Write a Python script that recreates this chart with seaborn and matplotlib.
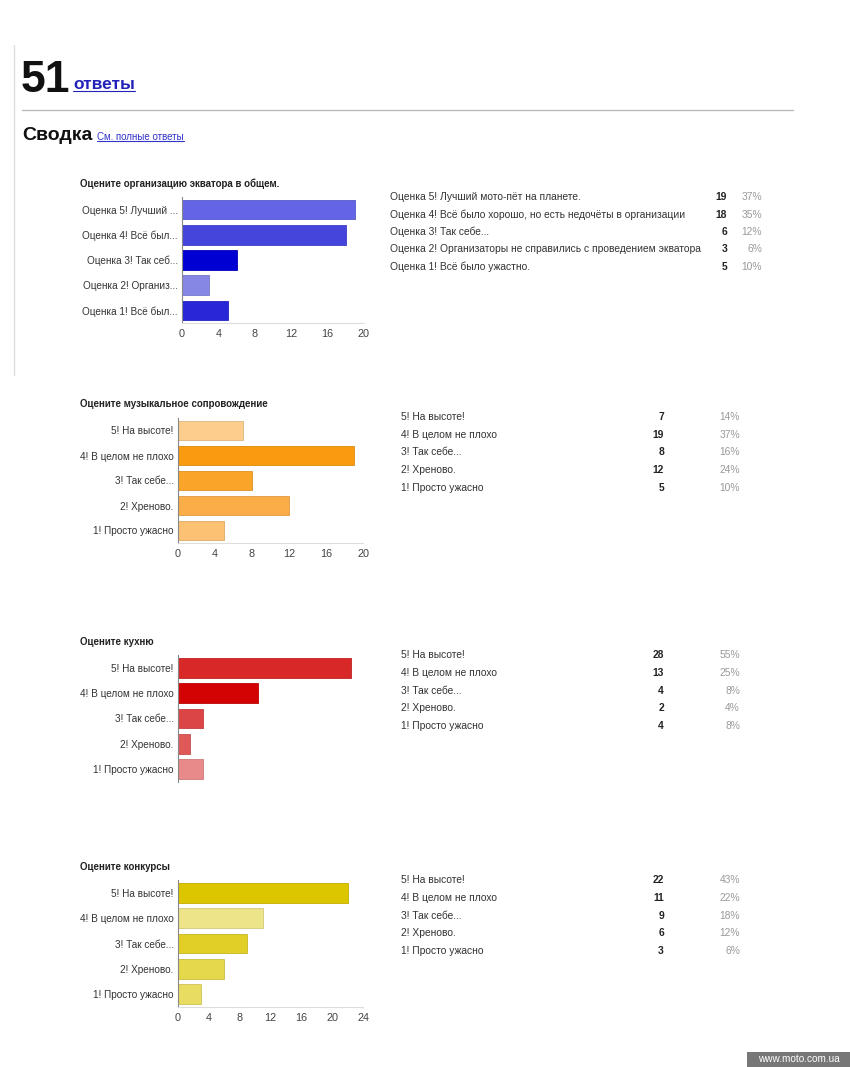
import matplotlib
matplotlib.use("Agg")
import matplotlib.pyplot as plt
import matplotlib.colors as mcolors
import seaborn as sns
import pandas as pd

# data
total = 51

q1_title = "Оцените организацию экватора в общем."
q1_short = ["Оценка 5! Лучший ...", "Оценка 4! Всё был...", "Оценка 3! Так себ...",
            "Оценка 2! Организ...", "Оценка 1! Всё был..."]
q1_full = ["Оценка 5! Лучший мото-пёт на планете.",
           "Оценка 4! Всё было хорошо, но есть недочёты в организации",
           "Оценка 3! Так себе...",
           "Оценка 2! Организаторы не справились с проведением экватора",
           "Оценка 1! Всё было ужастно."]
q1_counts = [19, 18, 6, 3, 5]
q1_colors = ["#6464e6", "#4545dc", "#0000d2", "#8686e4", "#2727d8"]

answers = ["5! На высоте!", "4! В целом не плохо", "3! Так себе...", "2! Хреново.", "1! Просто ужасно"]
answers_tbl = ["5! На высоте!", "4! В целом не плохо", "3! Так себе...", "2! Хреново.", "1! Просто ужасно"]

q2_title = "Оцените музыкальное сопровождение"
q2_counts = [7, 19, 8, 12, 5]
q2_colors = ["#fdcd8e", "#f99b0e", "#faa42a", "#fbae48", "#fcc172"]

q3_title = "Оцените кухню"
q3_counts = [28, 13, 4, 2, 4]
q3_colors = ["#d92828", "#d30303", "#dc4545", "#e05959", "#e88a8a"]

q4_title = "Оцените конкурсы"
q4_counts = [22, 11, 9, 6, 3]
q4_colors = ["#dcc600", "#ede48a", "#e1cf28", "#e5d84c", "#e8dc62"]

sns.set_style("white")
plt.rcParams["font.family"] = ["Liberation Sans", "DejaVu Sans"]

W, H = 850, 1067
fig = plt.figure(figsize=(W / 100, H / 100), dpi=100)


def px_axes(x0, y0, x1, y1):
    return fig.add_axes([x0 / W, 1 - y1 / H, (x1 - x0) / W, (y1 - y0) / H])


def fx(x):
    return x / W


def fy(y):
    return 1 - y / H


def underline(txt, color):
    fig.canvas.draw()
    bb = txt.get_window_extent()
    fig.add_artist(plt.Line2D([bb.x0 / W, bb.x1 / W], [(bb.y0 + 1) / H, (bb.y0 + 1) / H],
                              color=color, lw=0.8, transform=fig.transFigure))


# header
fig.add_artist(plt.Line2D([fx(14), fx(14)], [fy(45), fy(375)], color="#dddddd", lw=1))
fig.add_artist(plt.Line2D([fx(22), fx(793)], [fy(110), fy(110)], color="#bbbbbb", lw=1))
fig.text(fx(21), fy(92), "51", fontsize=32, fontweight="bold", color="#111111", va="baseline")
t = fig.text(fx(73), fy(89), "ответы", fontsize=12.5, fontweight="bold", color="#2222bb", va="baseline")
underline(t, "#2222bb")
fig.text(fx(22), fy(140), "Сводка", fontsize=14, fontweight="bold", color="#111111", va="baseline")
t = fig.text(fx(97), fy(140), "См. полные ответы", fontsize=7, color="#3333cc", va="baseline")
underline(t, "#3333cc")

charts = [
    dict(title=q1_title, labels=q1_short, tbl=q1_full, counts=q1_counts, colors=q1_colors,
         box=(182, 197, 364, 323), xmax=20, ticks=[0, 4, 8, 12, 16, 20], title_y=184,
         rows=[197, 214.5, 232, 249.5, 267], tx=(390, 727, 762)),
    dict(title=q2_title, labels=answers, tbl=answers_tbl, counts=q2_counts, colors=q2_colors,
         box=(178, 418, 363, 543), xmax=20, ticks=[0, 4, 8, 12, 16, 20], title_y=404,
         rows=[417, 435, 452, 470, 488], tx=(401, 664, 740)),
    dict(title=q3_title, labels=answers, tbl=answers_tbl, counts=q3_counts, colors=q3_colors,
         box=(178, 655, 363, 782), xmax=30, ticks=None, title_y=642,
         rows=[655, 673, 691, 708, 726], tx=(401, 664, 740)),
    dict(title=q4_title, labels=answers, tbl=answers_tbl, counts=q4_counts, colors=q4_colors,
         box=(178, 880, 363, 1007), xmax=24, ticks=[0, 4, 8, 12, 16, 20, 24], title_y=867,
         rows=[880, 898, 916, 933, 951], tx=(401, 664, 740)),
]

for c in charts:
    ax = px_axes(*c["box"])
    df = pd.DataFrame({"answer": c["labels"], "count": c["counts"]})
    sns.barplot(data=df, x="count", y="answer", hue="answer", palette=c["colors"],
                legend=False, orient="h", width=0.78, saturation=1, ax=ax)
    for p, col in zip(ax.patches, c["colors"]):
        r, g, b = mcolors.to_rgb(col)
        p.set_edgecolor((r * 0.88, g * 0.88, b * 0.88))
        p.set_linewidth(0.6)
    ax.set_xlim(0, c["xmax"])
    ax.set_ylim(4.5, -0.5)
    ax.set_xlabel("")
    ax.set_ylabel("")
    for s in ["top", "right"]:
        ax.spines[s].set_visible(False)
    ax.spines["left"].set_color("#888888")
    ax.spines["left"].set_linewidth(0.8)
    ax.spines["bottom"].set_color("#dddddd")
    ax.spines["bottom"].set_linewidth(0.8)
    ax.tick_params(axis="y", length=0, labelsize=7.2, colors="#333333", pad=3)
    if c["ticks"] is None:
        ax.set_xticks([])
        ax.spines["bottom"].set_visible(False)
    else:
        ax.set_xticks(c["ticks"])
        ax.tick_params(axis="x", length=0, labelsize=7.8, pad=4, colors="#444444")
    fig.text(fx(80), fy(c["title_y"]), c["title"], fontsize=7.05, fontweight="bold",
             color="#222222", va="center")
    lx, cx, px_ = c["tx"]
    for y, lab, n in zip(c["rows"], c["tbl"], c["counts"]):
        fig.text(fx(lx), fy(y), lab, fontsize=7.4, color="#333333", va="center")
        fig.text(fx(cx), fy(y), str(n), fontsize=7.4, fontweight="bold", color="#222222",
                 va="center", ha="right")
        fig.text(fx(px_), fy(y), f"{round(n / total * 100)}%", fontsize=7.4, color="#999999",
                 va="center", ha="right")

# watermark
fig.add_artist(plt.Rectangle((fx(747), 0), 1 - fx(747), 15 / H, transform=fig.transFigure,
                             fc="#777777", ec="none"))
fig.text(fx(798.5), 7.5 / H, "www.moto.com.ua", fontsize=7.2, color="white", ha="center",
         va="center")

fig.savefig("out.png", dpi=100, facecolor="white")
